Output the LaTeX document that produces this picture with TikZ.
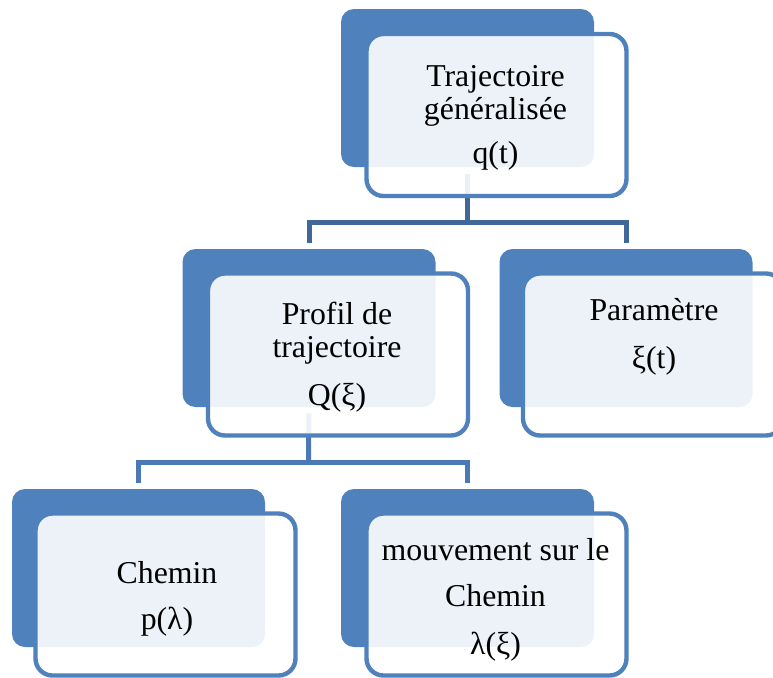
\documentclass[tikz,border=0pt]{standalone}
\usepackage{fontspec}
\setmainfont{Liberation Serif}
\usetikzlibrary{backgrounds}

\definecolor{cardblue}{HTML}{4F81BD}
\definecolor{linkA}{HTML}{3F6898}
\definecolor{linkB}{HTML}{4A79B6}

\begin{document}
\begin{tikzpicture}[x=0.5pt,y=-0.5pt,
    backcard/.style={rectangle,rounded corners=6.5pt,fill=cardblue,minimum width=126.5pt,minimum height=79pt,inner sep=0pt},
    frontcard/.style={rectangle,rounded corners=8.5pt,draw=cardblue,line width=2.2pt,fill=white,fill opacity=0.9,minimum width=130pt,minimum height=81pt,inner sep=0pt},
    cardtext/.style={align=center,anchor=base,inner sep=0pt,font=\fontsize{15.9}{16.5}\selectfont},
    linkline/.style={line width=2.5pt}]
	\useasboundingbox (0,0) rectangle (773,677);
	\clip (0,0) rectangle (773,677);
	% niveau 0
	\node[backcard] (traj-b) at (467.5,88) {};
	\node[frontcard] (traj-f) at (496.5,115) {};
	\node[cardtext] (traj-t) at (495.5,163) {Trajectoire\\généralisée\\[5.5pt]q(t)};
	% niveau 1
	\node[backcard] (prof-b) at (309,328) {};
	\node[frontcard] (prof-f) at (338,354.5) {};
	\node[cardtext] (prof-t) at (337,405) {Profil de\\trajectoire\\[7.5pt]Q(ξ)};
	\node[backcard] (param-b) at (626,328) {};
	\node[frontcard] (param-f) at (653,354.5) {};
	\node[cardtext] (param-t) at (654,368) {Paramètre\\[7.5pt]ξ(t)};
	% niveau 2
	\node[backcard] (chem-b) at (138.5,568) {};
	\node[frontcard] (chem-f) at (165.5,594.5) {};
	\node[cardtext] (chem-t) at (167,629) {Chemin\\[6.5pt]p(λ)};
	\node[backcard] (mouv-b) at (467.5,568) {};
	\node[frontcard] (mouv-f) at (496.5,594.5) {};
	\node[cardtext] (mouv-t) at (495.5,654) {mouvement sur le\\[6.5pt]Chemin\\[7.5pt]λ(ξ)};
	% liaisons
	\begin{pgfonlayer}{background}
		\coordinate (fork1) at (467.5,222);
		\coordinate (fork2) at (308.5,462);
		\draw[linkline,linkA,shorten <=3.5pt] (traj-b.south) -- (fork1);
		\draw[linkline,linkA,shorten >=3pt] (fork1) -| (prof-b.north);
		\draw[linkline,linkA,shorten >=3pt] (fork1) -| (param-b.north);
		\draw[linkline,linkB,shorten <=3pt] (prof-b.south) -- (fork2);
		\draw[linkline,linkB,shorten >=3pt] (fork2) -| (chem-b.north);
		\draw[linkline,linkB,shorten >=3pt] (fork2) -| (mouv-b.north);
	\end{pgfonlayer}
\end{tikzpicture}
\end{document}
